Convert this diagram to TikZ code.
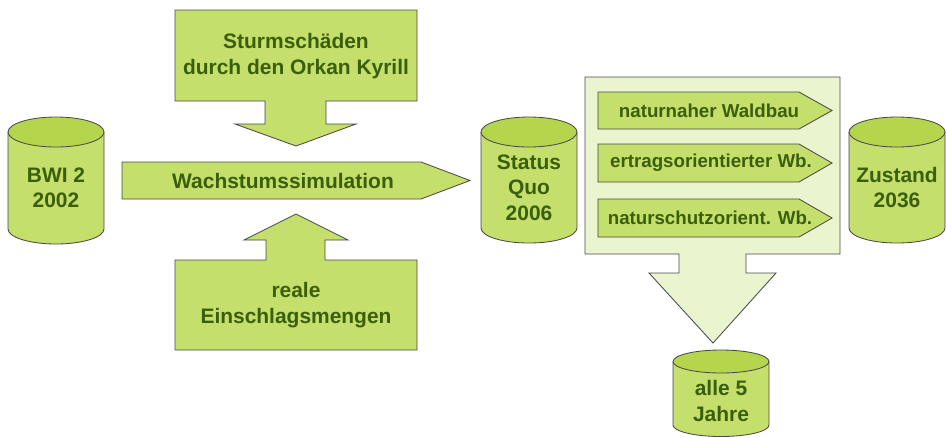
\documentclass[tikz,border=0pt]{standalone}
\usepackage{fontspec}
\setmainfont{Liberation Sans}
\definecolor{gruen}{HTML}{C4DF6B}
\definecolor{deckel}{HTML}{B5D64C}
\definecolor{hell}{HTML}{EAF4CF}
\definecolor{schrift}{HTML}{3B5E0A}
\definecolor{rand}{HTML}{4A4A4A}

\begin{document}
\begin{tikzpicture}[x=0.025cm, y=-0.025cm,
	form/.style={draw=rand, line width=0.6pt, fill=gruen},
	gross/.style={text=schrift, font=\bfseries\fontsize{14.9}{18}\selectfont, align=center, inner sep=0},
	klein/.style={text=schrift, font=\bfseries\fontsize{13.3}{16}\selectfont, inner sep=0}]
		\useasboundingbox (0,0) rectangle (946,437);

		% Datenbestaende (Tonnen)
		\foreach \x/\o/\u/\r in {56/132/229/15, 529/132/228/15, 897/132/228/15, 721/361.5/425/11.5} {
			\path[form] (\x-48,\o) -- (\x-48,\u) arc[start angle=180, end angle=0, x radius=48, y radius=\r] -- (\x+48,\o);
			\path[form, fill=deckel] (\x,\o) ellipse[x radius=48, y radius=\r];
		}
		\node[gross] (bwi) at (56,187.5) {BWI 2\\2002};
		\node[gross] (status) at (529,187.5) {Status\\Quo\\2006};
		\node[gross] (zustand) at (897,187.5) {Zustand\\2036};
		\node[gross] (jahre) at (721,401) {alle 5\\Jahre};

		% Simulation mit Einfluessen
		\path[form] (175,10) -- (417,10) -- (417,101) -- (326,101) -- (326,124) -- (356,124) -- (296,146)
			-- (235,124) -- (265,124) -- (265,101) -- (175,101) -- cycle;
		\path[form] (175,350) -- (417,350) -- (417,260) -- (325,260) -- (325,240) -- (348,240) -- (296,214)
			-- (244,240) -- (266,240) -- (266,260) -- (175,260) -- cycle;
		\path[form] (122,162) -- (421,162) -- (470,180.5) -- (421,199) -- (122,199) -- cycle;
		\node[gross] (sturm) at (296,56) {Sturmschäden\\durch den Orkan Kyrill};
		\node[gross] (einschlag) at (296,305) {reale\\Einschlagsmengen};
		\node[gross] (wachstum) at (283,181) {Wachstumssimulation};

		% Szenarien
		\path[form, fill=hell] (585,77) -- (840,77) -- (840,254) -- (746,254) -- (746,273) -- (776,273) -- (713,343)
			-- (649,273) -- (679,273) -- (679,254) -- (585,254) -- cycle;
		\path[form] (598,92) -- (799,92) -- (832,110.5) -- (799,129) -- (598,129) -- cycle;
		\path[form] (598,144) -- (799,144) -- (832,163) -- (799,182) -- (598,182) -- cycle;
		\path[form] (598,199) -- (799,199) -- (832,218) -- (799,237) -- (598,237) -- cycle;
		\node[klein] (waldbau) at (709,111) {naturnaher Waldbau};
		\node[klein] (ertrag) at (711,163) {ertragsorientierter Wb.};
		\node[klein] (naturschutz) at (710,218) {naturschutzorient. Wb.};
\end{tikzpicture}
\end{document}
